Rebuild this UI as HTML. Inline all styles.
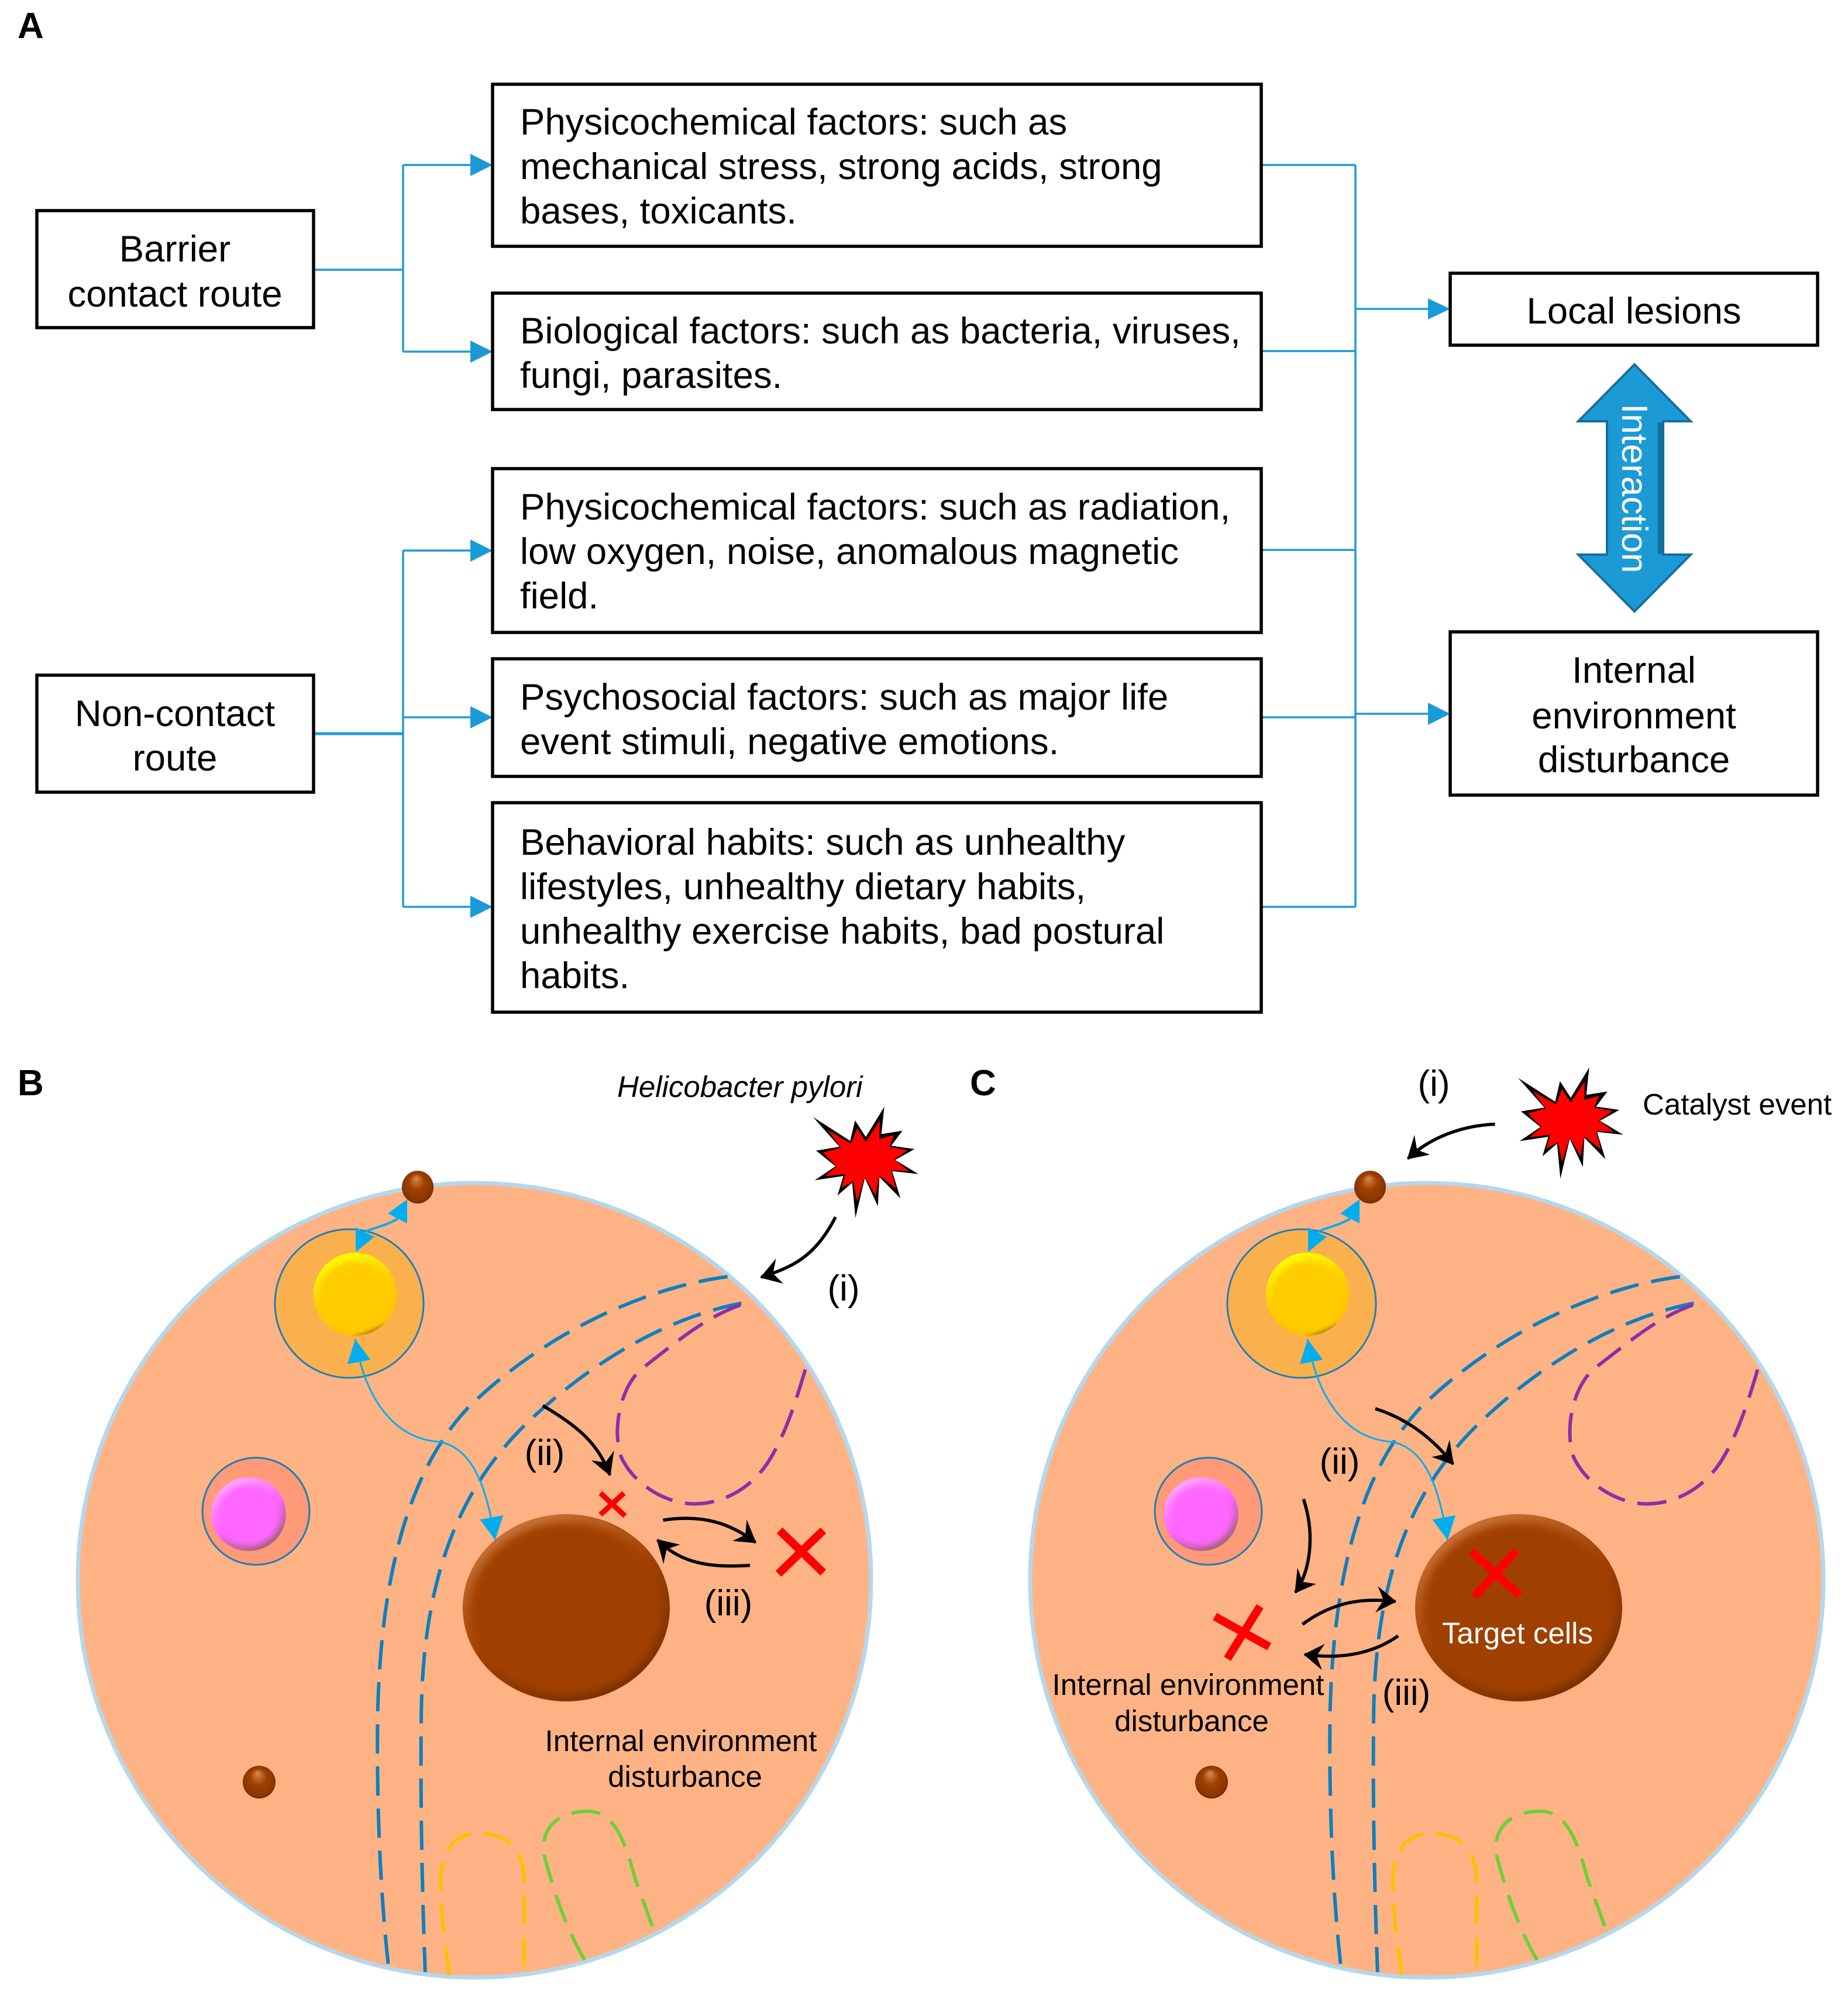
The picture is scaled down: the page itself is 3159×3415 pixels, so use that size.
<!DOCTYPE html>
<html><head><meta charset="utf-8"><style>
html,body{margin:0;padding:0;background:#fff}
svg{display:block}
text{font-family:"Liberation Sans",Arial,sans-serif;fill:#000}
.t{font-size:63.5px}
.c{font-size:63.5px;text-anchor:middle}
.s{font-size:51px}
.m{font-size:51px;text-anchor:middle}
.l{font-size:62px;text-anchor:middle}
.h{font-size:62px;font-weight:bold}
.box{fill:#fff;stroke:#000;stroke-width:5.5}
.w{fill:none;stroke:#1f9bd7;stroke-width:3.5}
.ah{fill:#1b9ad8}
.d{fill:none;stroke-width:6;stroke-dasharray:50 22;vector-effect:non-scaling-stroke}
.k{fill:none;stroke:#000;stroke-width:5.5;marker-end:url(#mk);vector-effect:non-scaling-stroke}
.x{stroke:#f00;fill:none;vector-effect:non-scaling-stroke}
.b{fill:none;stroke:#00aeef;stroke-width:3;vector-effect:non-scaling-stroke}
.bm{marker-end:url(#mb);marker-start:url(#mb)}
</style></head><body>
<svg xmlns="http://www.w3.org/2000/svg" width="3159" height="3415" viewBox="0 0 3159 3415">
<defs>
<marker id="mk" markerUnits="userSpaceOnUse" orient="auto" overflow="visible" markerWidth="40" markerHeight="40" refX="0" refY="0"><path d="M-32 -19 L0 0 L-32 19 L-21 0 Z" fill="#000" stroke="#000" stroke-width="2"/></marker>
<marker id="mb" markerUnits="userSpaceOnUse" orient="auto-start-reverse" overflow="visible" markerWidth="40" markerHeight="40" refX="0" refY="0"><path d="M-38 -21 L0 0 L-38 21 Z" fill="#00aeef"/></marker>
<filter id="bl" x="-20%" y="-20%" width="140%" height="140%"><feGaussianBlur stdDeviation="7"/></filter>
<filter id="bs" x="-20%" y="-20%" width="140%" height="140%"><feGaussianBlur stdDeviation="5"/></filter>
<linearGradient id="gb" x1=".2" y1="0" x2=".8" y2="1"><stop offset="0" stop-color="#d07a40"/><stop offset=".5" stop-color="#a04000"/><stop offset="1" stop-color="#6f2c00"/></linearGradient>
<linearGradient id="gy" x1=".3" y1="0" x2=".7" y2="1"><stop offset="0" stop-color="#ffff00"/><stop offset=".5" stop-color="#ffcc00"/><stop offset=".9" stop-color="#ffc000"/><stop offset="1" stop-color="#7f6000"/></linearGradient>
<linearGradient id="gp" x1=".2" y1="0" x2=".8" y2="1"><stop offset="0" stop-color="#ffb0ff"/><stop offset=".5" stop-color="#ff66ff"/><stop offset="1" stop-color="#906060"/></linearGradient>
<radialGradient id="gs" cx=".5" cy=".5" r=".55" fx=".45" fy=".22"><stop offset="0" stop-color="#d98a50"/><stop offset=".45" stop-color="#a04000"/><stop offset=".85" stop-color="#8a3600"/><stop offset="1" stop-color="#4a1e00"/></radialGradient>
<g id="star" transform="translate(1350 1860) scale(.33333)">
<polygon fill="#000" points="120,148 310,270 335,165 390,250 485,95 470,235 578,218 520,295 640,312 540,368 660,440 525,425 568,565 460,455 452,605 385,460 337,665 320,485 245,550 275,450 128,472 235,400 135,320 255,300"/>
<polygon fill="#f00" points="195,215 315,285 345,205 390,275 462,165 460,260 535,240 510,300 605,318 535,365 610,425 520,420 545,515 460,448 440,550 385,455 345,580 325,478 265,510 285,440 180,452 240,400 170,330 262,305"/>
</g>
<g id="cell">
<ellipse cx="811" cy="2701" rx="678" ry="679" fill="#ffb385" stroke="#b5d7ec" stroke-width="7"/>
<ellipse cx="597" cy="2228" rx="127" ry="127" fill="#fbb04e" stroke="#1f7fb5" stroke-width="3"/>
<ellipse cx="437.5" cy="2583" rx="91.5" ry="91.5" fill="#ff9a78" stroke="#1f7fb5" stroke-width="3"/>
<ellipse cx="607" cy="2212" rx="71" ry="71" fill="url(#gy)"/>
<ellipse cx="607" cy="2216" rx="62" ry="60" fill="#ffcc00" filter="url(#bs)"/>
<ellipse cx="425" cy="2588" rx="64" ry="63" fill="url(#gp)"/>
<ellipse cx="425" cy="2590" rx="54" ry="52" fill="#ff66ff" filter="url(#bs)"/>
<ellipse cx="968" cy="2748" rx="177" ry="160" fill="url(#gb)"/>
<ellipse cx="968" cy="2750" rx="164" ry="147" fill="#a04000" filter="url(#bl)"/>
<ellipse cx="714" cy="2029" rx="27" ry="28" fill="url(#gs)"/>
<ellipse cx="443" cy="3046" rx="28" ry="28" fill="url(#gs)"/>
<g transform="translate(100 1800) scale(.957 1.03)">
<path class="d" stroke="#0f7fbf" d="M1195 371 C1040 390 860 470 730 590 C620 700 575 880 570 1100 C568 1250 575 1400 590 1520"/>
<path class="d" stroke="#0f7fbf" d="M1220 415 C1080 440 940 520 830 620 C700 740 650 900 648 1100 C646 1250 650 1400 655 1525"/>
<path class="d" stroke="#8b2fa8" d="M1218 418 C1150 440 1090 490 1040 525 C1000 560 990 630 1005 670 C1030 720 1090 748 1135 748 C1190 748 1240 720 1270 675 C1300 630 1320 570 1338 512"/>
<path class="d" stroke="#ffc000" d="M698 1530 C690 1470 682 1420 682 1380 C682 1320 710 1295 750 1295 C800 1295 830 1320 832 1370 L832 1525"/>
<path class="d" stroke="#6fcf3a" d="M940 1505 C905 1450 885 1390 870 1340 C855 1290 890 1258 945 1258 C990 1258 1010 1300 1030 1370 L1065 1460"/>
<path class="b bm" d="M530 475 C548 575 600 640 680 645 C740 655 765 720 780 808"/>
</g>
<path class="b" d="M625 2105 C640 2098 660 2095 680 2083" style="stroke-width:4"/>
<polygon points="696,2050 663,2074 696,2091" fill="#00aeef"/>
<polygon points="608,2140 608,2098 640,2114" fill="#00aeef"/>
</g>
</defs>
<rect width="3159" height="3415" fill="#fff"/>

<!-- Panel A -->
<text class="h" x="30" y="65">A</text>
<text class="h" x="30" y="1872">B</text>
<text class="h" x="1658" y="1872">C</text>

<path class="w" d="M536 461H689M689 282V601M689 282H810M689 601H810"/>
<path class="w" d="M536 1254H689M689 941V1550M689 941H810M689 1226H810M689 1550H810"/>
<path class="w" d="M536 1254H689" style="stroke-width:5"/>
<path class="w" d="M2157 282H2317M2157 600H2317M2157 940H2317M2157 1226H2317M2157 1550H2317M2317 282V1550M2317 528H2445M2317 1220H2445"/>
<polygon class="ah" points="804,263 842,282 804,301"/>
<polygon class="ah" points="804,582 842,601 804,620"/>
<polygon class="ah" points="804,922 842,941 804,960"/>
<polygon class="ah" points="804,1207 842,1226 804,1245"/>
<polygon class="ah" points="804,1531 842,1550 804,1569"/>
<polygon class="ah" points="2441,510 2479,528 2441,546"/>
<polygon class="ah" points="2441,1201 2479,1220 2441,1239"/>

<rect class="box" x="63" y="360" width="473" height="200"/>
<text class="c" x="299" y="447">Barrier</text>
<text class="c" x="299" y="524">contact route</text>
<rect class="box" x="63" y="1154" width="473" height="200"/>
<text class="c" x="299" y="1241">Non-contact</text>
<text class="c" x="299" y="1317">route</text>

<rect class="box" x="842" y="144" width="1314" height="277"/>
<text class="t" x="889" y="230">Physicochemical factors: such as</text>
<text class="t" x="889" y="306">mechanical stress, strong acids, strong</text>
<text class="t" x="889" y="382">bases, toxicants.</text>
<rect class="box" x="842" y="501" width="1314" height="199"/>
<text class="t" x="889" y="587">Biological factors: such as bacteria, viruses,</text>
<text class="t" x="889" y="663">fungi, parasites.</text>
<rect class="box" x="842" y="801" width="1314" height="280"/>
<text class="t" x="889" y="888">Physicochemical factors: such as radiation,</text>
<text class="t" x="889" y="964">low oxygen, noise, anomalous magnetic</text>
<text class="t" x="889" y="1040">field.</text>
<rect class="box" x="842" y="1126" width="1314" height="201"/>
<text class="t" x="889" y="1213">Psychosocial factors: such as major life</text>
<text class="t" x="889" y="1289">event stimuli, negative emotions.</text>
<rect class="box" x="842" y="1372" width="1314" height="358"/>
<text class="t" x="889" y="1461">Behavioral habits: such as unhealthy</text>
<text class="t" x="889" y="1537">lifestyles, unhealthy dietary habits,</text>
<text class="t" x="889" y="1613">unhealthy exercise habits, bad postural</text>
<text class="t" x="889" y="1689">habits.</text>

<rect class="box" x="2479" y="467" width="628" height="123"/>
<text class="c" x="2793" y="553">Local lesions</text>
<rect class="box" x="2479" y="1080" width="628" height="279"/>
<text class="c" x="2793" y="1167">Internal</text>
<text class="c" x="2793" y="1245">environment</text>
<text class="c" x="2793" y="1320">disturbance</text>

<polygon points="2794,623 2890,720 2843,720 2843,948 2890,948 2794,1045 2698,948 2747,948 2747,720 2698,720" fill="#1b9ad6" stroke="#146f9e" stroke-width="4"/>
<rect x="2834" y="722" width="9" height="225" fill="#146f9e"/>
<text x="0" y="0" transform="translate(2773 690) rotate(90)" style="font-size:62px;fill:#fff">Interaction</text>

<!-- Panel B -->
<use href="#cell"/>
<use href="#star"/>
<g transform="translate(100 1800) scale(.957 1.03)">
<path class="k" d="M1388 272 C1350 340 1310 355 1255 372"/>
<path class="k" d="M865 585 C930 620 965 650 985 700"/>
<path class="k" d="M1080 775 C1150 765 1200 780 1245 812"/>
<path class="k" d="M1235 850 C1160 855 1110 845 1070 808"/>
<path class="x" stroke-width="9" d="M968 766L1010 730M968 730L1012 768"/>
<path class="x" stroke-width="14" d="M1288 792L1366 862M1366 792L1286 864"/>
</g>
<text class="s" x="1055" y="1875" style="font-style:italic">Helicobacter pylori</text>
<text class="l" x="1442" y="2223">(i)</text>
<text class="l" x="931" y="2504">(ii)</text>
<text class="l" x="1245" y="2761">(iii)</text>
<text class="m" x="1164" y="2993">Internal environment</text>
<text class="m" x="1171" y="3054">disturbance</text>

<!-- Panel C -->
<use href="#cell" transform="translate(1628 0)"/>
<use href="#star" transform="translate(1205 -67)"/>
<g transform="translate(1700 1800) scale(.93 1.03)">
<path class="k" d="M920 118 C860 120 800 140 760 175"/>
<path class="k" d="M700 590 C770 610 815 650 843 682"/>
<path class="k" d="M568 740 C590 800 580 860 553 895"/>
<path class="k" d="M566 948 C630 905 690 905 737 910"/>
<path class="k" d="M742 967 C690 1000 630 1005 570 998"/>
<path class="x" stroke-width="14" d="M405 935L505 985M488 918L428 1005"/>
<path class="x" stroke-width="14" d="M877 827L965 900M960 825L882 902"/>
</g>
<text class="s" x="2808" y="1905">Catalyst event</text>
<text class="l" x="2451" y="1873">(i)</text>
<text class="l" x="2290" y="2519">(ii)</text>
<text class="l" x="2404" y="2914">(iii)</text>
<text class="m" x="2594" y="2809" style="fill:#fff">Target cells</text>
<text class="m" x="2031" y="2897">Internal environment</text>
<text class="m" x="2037" y="2959">disturbance</text>
</svg>
</body></html>
